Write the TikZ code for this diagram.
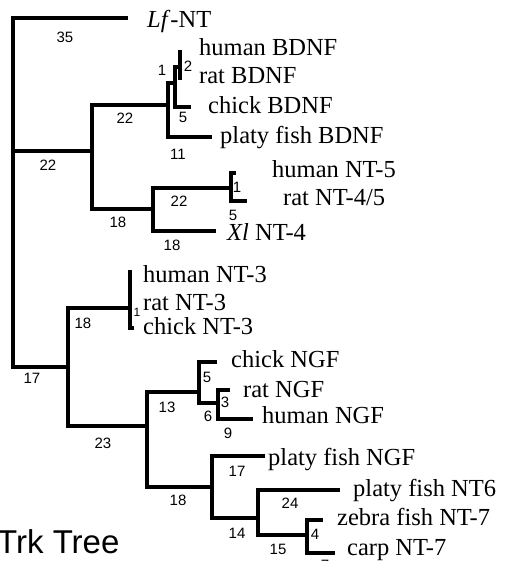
\documentclass[tikz,border=0pt]{standalone}
\usepackage{fontspec}
\setmainfont{Liberation Serif}
\newfontfamily\lblfont{Liberation Sans}
\begin{document}
\begin{tikzpicture}[x=1pt,y=-1pt,
  br/.style={line width=3.2pt,line join=miter,line cap=butt},
  leaf/.style={anchor=base west,inner sep=0pt,font=\fontsize{24.5}{28}\selectfont},
  num/.style={inner sep=0pt,font=\lblfont\fontsize{15}{17}\selectfont},
  ttl/.style={anchor=base west,inner sep=0pt,font=\lblfont\fontsize{33}{38}\selectfont}]
\useasboundingbox (0,0) rectangle (505,561);
% internal nodes and tips
\coordinate (root) at (13,151);
\coordinate (lf) at (128,18);
\coordinate (A) at (92,151);
\coordinate (B) at (68,367);
\coordinate (bd) at (168,105);
\coordinate (bd1) at (175,83);
\coordinate (bd2) at (180,67);
\coordinate (hb) at (180,50);
\coordinate (rb) at (180,80);
\coordinate (cb) at (191,107);
\coordinate (pb) at (212,137);
\coordinate (n45) at (153,209);
\coordinate (n45b) at (231,188);
\coordinate (h5) at (236,173);
\coordinate (r45) at (247,201);
\coordinate (xl) at (216,231);
\coordinate (nt3) at (130,308);
\coordinate (h3) at (130,270);
\coordinate (c3) at (134,328);
\coordinate (ngf) at (147,426);
\coordinate (ngf1) at (199,392);
\coordinate (cn) at (217,362);
\coordinate (ngf2) at (218,403);
\coordinate (rn) at (230,390);
\coordinate (hn) at (253,419);
\coordinate (fish) at (212,487);
\coordinate (pn) at (265,456);
\coordinate (fish2) at (258,518);
\coordinate (nt6) at (340,490);
\coordinate (nt7) at (307,535);
\coordinate (zf) at (323,520);
\coordinate (cp) at (335,553);
% branches
\draw[br] (root) |- (lf);
\draw[br] (root) |- (A);
\draw[br] (root) |- (B);
\draw[br] (A) |- (bd);
\draw[br] (A) |- (n45);
\draw[br] (bd) |- (bd1);
\draw[br] (bd) |- (pb);
\draw[br] (bd1) |- (bd2);
\draw[br] (bd1) |- (cb);
\draw[br] (bd2) |- (hb);
\draw[br] (bd2) |- (rb);
\draw[br] (n45) |- (n45b);
\draw[br] (n45) |- (xl);
\draw[br] (n45b) |- (h5);
\draw[br] (n45b) |- (r45);
\draw[br] (B) |- (nt3);
\draw[br] (B) |- (ngf);
\draw[br] (nt3) |- (h3);
\draw[br] (nt3) |- (c3);
\draw[br] (ngf) |- (ngf1);
\draw[br] (ngf) |- (fish);
\draw[br] (ngf1) |- (cn);
\draw[br] (ngf1) |- (ngf2);
\draw[br] (ngf2) |- (rn);
\draw[br] (ngf2) |- (hn);
\draw[br] (fish) |- (pn);
\draw[br] (fish) |- (fish2);
\draw[br] (fish2) |- (nt6);
\draw[br] (fish2) |- (nt7);
\draw[br] (nt7) |- (zf);
\draw[br] (nt7) |- (cp);
% leaf labels
\node[leaf] (tLf) at (147,28) {\textit{Lf}-NT};
\node[leaf] (thb) at (199,56) {human BDNF};
\node[leaf] (trb) at (199,84) {rat BDNF};
\node[leaf] (tcb) at (208,114) {chick BDNF};
\node[leaf] (tpb) at (220,144) {platy fish BDNF};
\node[leaf] (th5) at (272,178) {human NT-5};
\node[leaf] (tr45) at (283,205) {rat NT-4/5};
\node[leaf] (txl) at (227,240) {\textit{Xl} NT-4};
\node[leaf] (th3) at (143,282) {human NT-3};
\node[leaf] (tr3) at (143,310) {rat NT-3};
\node[leaf] (tc3) at (143,334) {chick NT-3};
\node[leaf] (tcn) at (231,367) {chick NGF};
\node[leaf] (trn) at (243,397) {rat NGF};
\node[leaf] (thn) at (262,423) {human NGF};
\node[leaf] (tpn) at (268,465) {platy fish NGF};
\node[leaf] (tnt6) at (353,496) {platy fish NT6};
\node[leaf] (tzf) at (337,525) {zebra fish NT-7};
\node[leaf] (tcp) at (347,555) {carp NT-7};
% branch length labels
\node[num] (l35) at (65,37) {35};
\node[num] (l22a) at (125,118) {22};
\node[num] (l1a) at (162,70) {1};
\node[num] (l2) at (188,66) {2};
\node[num] (l5a) at (183,117) {5};
\node[num] (l11) at (178,154) {11};
\node[num] (l22b) at (48,165) {22};
\node[num] (l18a) at (118,222) {18};
\node[num] (l22c) at (179,201) {22};
\node[num] (l1b) at (237,187) {1};
\node[num] (l5b) at (233,215) {5};
\node[num] (l18b) at (172,245) {18};
\node[num,font=\lblfont\fontsize{12}{14}\selectfont] (l1c) at (137,312) {1};
\node[num] (l18c) at (83,323) {18};
\node[num] (l17a) at (32,378) {17};
\node[num] (l5c) at (207,377) {5};
\node[num] (l13) at (167,407) {13};
\node[num] (l3) at (225,402) {3};
\node[num] (l6) at (208,416) {6};
\node[num] (l9) at (228,433) {9};
\node[num] (l23) at (103,443) {23};
\node[num] (l17b) at (237,471) {17};
\node[num] (l18d) at (178,500) {18};
\node[num] (l24) at (290,503) {24};
\node[num] (l14) at (237,533) {14};
\node[num] (l4) at (315,534) {4};
\node[num] (l15) at (278,549) {15};
\node[num] (l7) at (325,565) {7};
% title
\node[ttl] (title) at (-3,553) {Trk Tree};
\end{tikzpicture}
\end{document}
